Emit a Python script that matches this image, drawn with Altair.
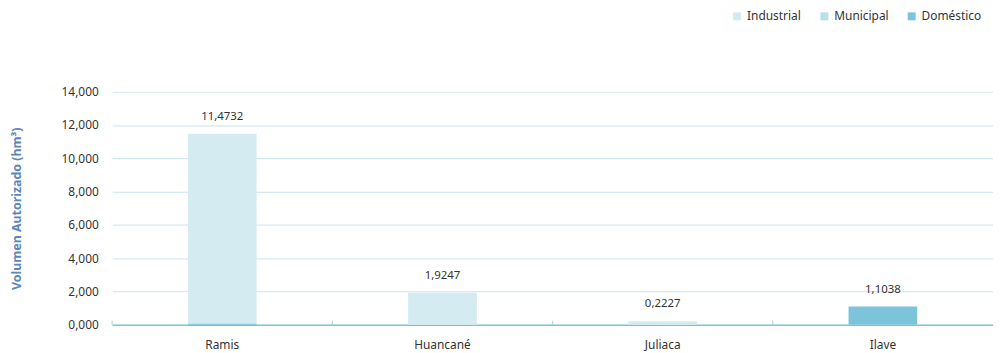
import altair as alt
import pandas as pd

categories = ["Ramis", "Huancané", "Juliaca", "Ilave"]
uses = ["Industrial", "Municipal", "Doméstico"]
industrial = [11.4132, 1.9247, 0.2227, 0.0]
municipal = [0.0, 0.0, 0.0, 0.0]
domestico = [0.06, 0.0, 0.0, 1.1038]
stack_rank = [2, 1, 0]
y_ticks = [0, 2, 4, 6, 8, 10, 12, 14]
colors = ["#d4ebf2", "#b7dfea", "#7cc4d9"]

rows = []
for i, c in enumerate(categories):
    for u, vals, o in zip(uses, [industrial, municipal, domestico], stack_rank):
        rows.append({"cuenca": c, "uso": u, "volumen": vals[i], "orden": o})
df = pd.DataFrame(rows)
cats_df = pd.DataFrame({"cuenca": categories})

FONT = "Noto Sans"
W, H = 888, 235

xscale = alt.Scale(domain=categories, paddingInner=0, paddingOuter=0)
yscale = alt.Scale(domain=[0, 14], nice=False)

xaxis = alt.Axis(title=None, labelAngle=0, ticks=False, domain=True,
                 domainColor="#7cc4d9", domainWidth=1.5, labelPadding=15,
                 labelFontSize=12, labelColor="#333333", labelFont=FONT)
yaxis = alt.Axis(title="Volumen Autorizado (hm³)", values=y_ticks,
                 labelExpr="replace(format(datum.value, '.3f'), '.', ',')",
                 labelOverlap=False,
                 domain=False, ticks=False, grid=True, gridColor="#d3eaf2",
                 gridWidth=1.2, labelPadding=14, labelFontSize=12,
                 labelColor="#333333", labelFont=FONT,
                 titleFont=FONT, titleFontSize=12.5, titleFontWeight="bold",
                 titleColor="#5b87b8", titlePadding=38)

bars = alt.Chart(df).mark_bar(width=alt.RelativeBandSize(0.312)).encode(
    x=alt.X("cuenca:N", scale=xscale, sort=categories, axis=xaxis),
    y=alt.Y("volumen:Q", stack="zero", scale=yscale, axis=yaxis),
    color=alt.Color("uso:N", scale=alt.Scale(domain=uses, range=colors),
                    legend=alt.Legend(title=None, orient="none", direction="horizontal",
                                      legendX=624, legendY=-82, symbolType="square",
                                      symbolSize=64, symbolStrokeWidth=0,
                                      labelFont=FONT, labelFontSize=12, labelColor="#333333",
                                      columnPadding=17, labelOffset=4)),
    order=alt.Order("orden:Q", sort="ascending"),
)

labels = alt.Chart(df).transform_aggregate(
    total="sum(volumen)", groupby=["cuenca"]
).transform_calculate(
    lbl="replace(format(datum.total, '.4f'), '.', ',')"
).mark_text(baseline="bottom", dy=-12, font=FONT, fontSize=11.5, color="#333333").encode(
    x=alt.X("cuenca:N", scale=xscale, sort=categories, axis=xaxis),
    y=alt.Y("total:Q", scale=yscale, axis=yaxis),
    text="lbl:N",
)

ticks = alt.Chart(cats_df).mark_rule(color="#a9d8e6", strokeWidth=1.2).encode(
    x=alt.X("cuenca:N", scale=xscale, sort=categories, bandPosition=0, axis=xaxis),
    y=alt.value(H - 4),
    y2=alt.value(H),
)

chart = alt.layer(bars, ticks, labels).properties(
    width=W, height=H,
    autosize=alt.AutoSizeParams(type="none"),
    padding={"left": 105, "top": 83, "right": 0, "bottom": 30},
).configure(font=FONT).configure_view(strokeWidth=0, stroke="transparent")

chart.save("out.html", embed_options={"renderer": "svg", "actions": False})
